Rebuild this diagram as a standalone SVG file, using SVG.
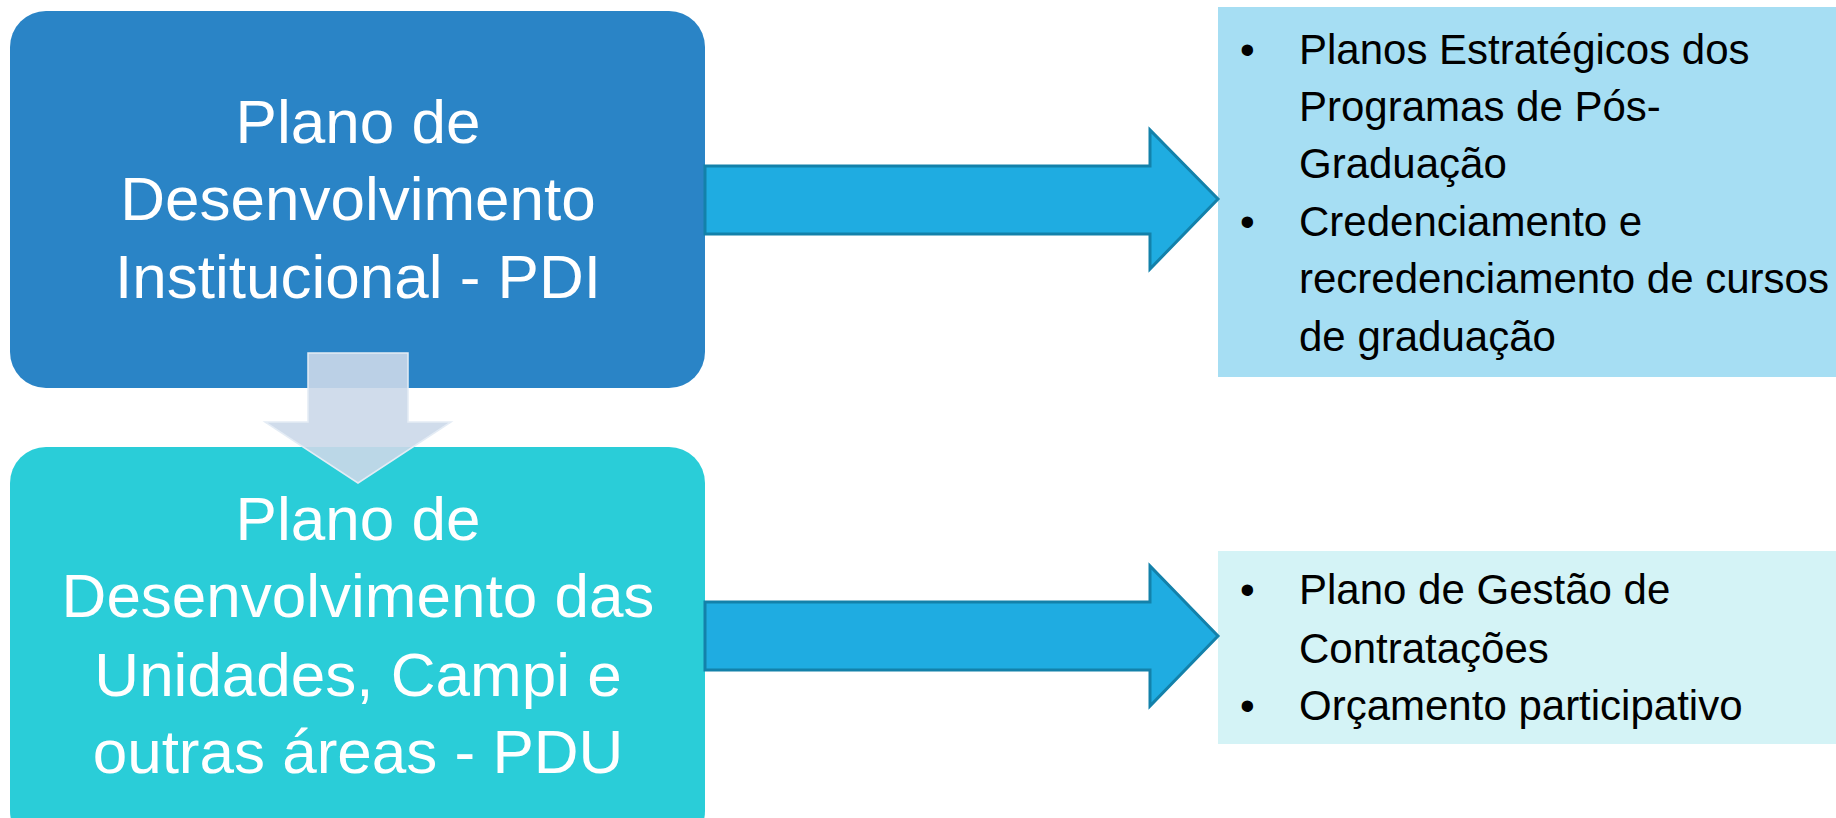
<svg xmlns="http://www.w3.org/2000/svg" width="1836" height="818" viewBox="0 0 1836 818">
<style>
.big{font-family:"Liberation Sans",Arial,sans-serif;font-size:62px;fill:#FFFFFF;text-anchor:middle}
.list{font-family:"Liberation Sans",Arial,sans-serif;font-size:42px;fill:#000000}
.rarrow{fill:#1FACE1;stroke:#1381AA;stroke-width:3;stroke-linejoin:miter}
</style>
<rect width="1836" height="818" fill="#FFFFFF"/>
<g id="node-pdi">
<rect x="10" y="11" width="695" height="377" rx="36" ry="36" fill="#2A84C6"/>
<text class="big" x="358" y="143">Plano de</text>
<text class="big" x="358" y="220">Desenvolvimento</text>
<text class="big" x="358" y="298">Institucional - PDI</text>
</g>
<g id="node-pdu">
<rect x="10" y="447" width="695" height="400" rx="36" ry="36" fill="#2ACDD8"/>
<text class="big" x="358" y="540">Plano de</text>
<text class="big" x="358" y="617">Desenvolvimento das</text>
<text class="big" x="358" y="696">Unidades, Campi e</text>
<text class="big" x="358" y="773">outras áreas - PDU</text>
</g>
<g id="node-list1">
<rect x="1218" y="7" width="618" height="370" fill="#A6DEF3"/>
<text class="list" x="1240" y="64">•</text>
<text class="list" x="1299" y="64">Planos Estratégicos dos</text>
<text class="list" x="1299" y="121">Programas de Pós-</text>
<text class="list" x="1299" y="178">Graduação</text>
<text class="list" x="1240" y="236">•</text>
<text class="list" x="1299" y="236">Credenciamento e</text>
<text class="list" x="1299" y="293">recredenciamento de cursos</text>
<text class="list" x="1299" y="351">de graduação</text>
</g>
<g id="node-list2">
<rect x="1218" y="551" width="618" height="193" fill="#D4F3F6"/>
<text class="list" x="1240" y="604">•</text>
<text class="list" x="1299" y="604">Plano de Gestão de</text>
<text class="list" x="1299" y="663">Contratações</text>
<text class="list" x="1240" y="720">•</text>
<text class="list" x="1299" y="720">Orçamento participativo</text>
</g>
<g id="connectors">
<polygon points="308,353 408,353 408,422 451,422 358,483 265,422 308,422" fill="#CBD8E9" fill-opacity="0.9" stroke="#E4ECF5" stroke-width="1.5"/>
<polygon class="rarrow" points="705,166 1150,166 1150,130 1218,199 1150,269 1150,234 705,234"/>
<polygon class="rarrow" points="705,602 1150,602 1150,566 1218,636 1150,706 1150,670 705,670"/>
</g>
</svg>
